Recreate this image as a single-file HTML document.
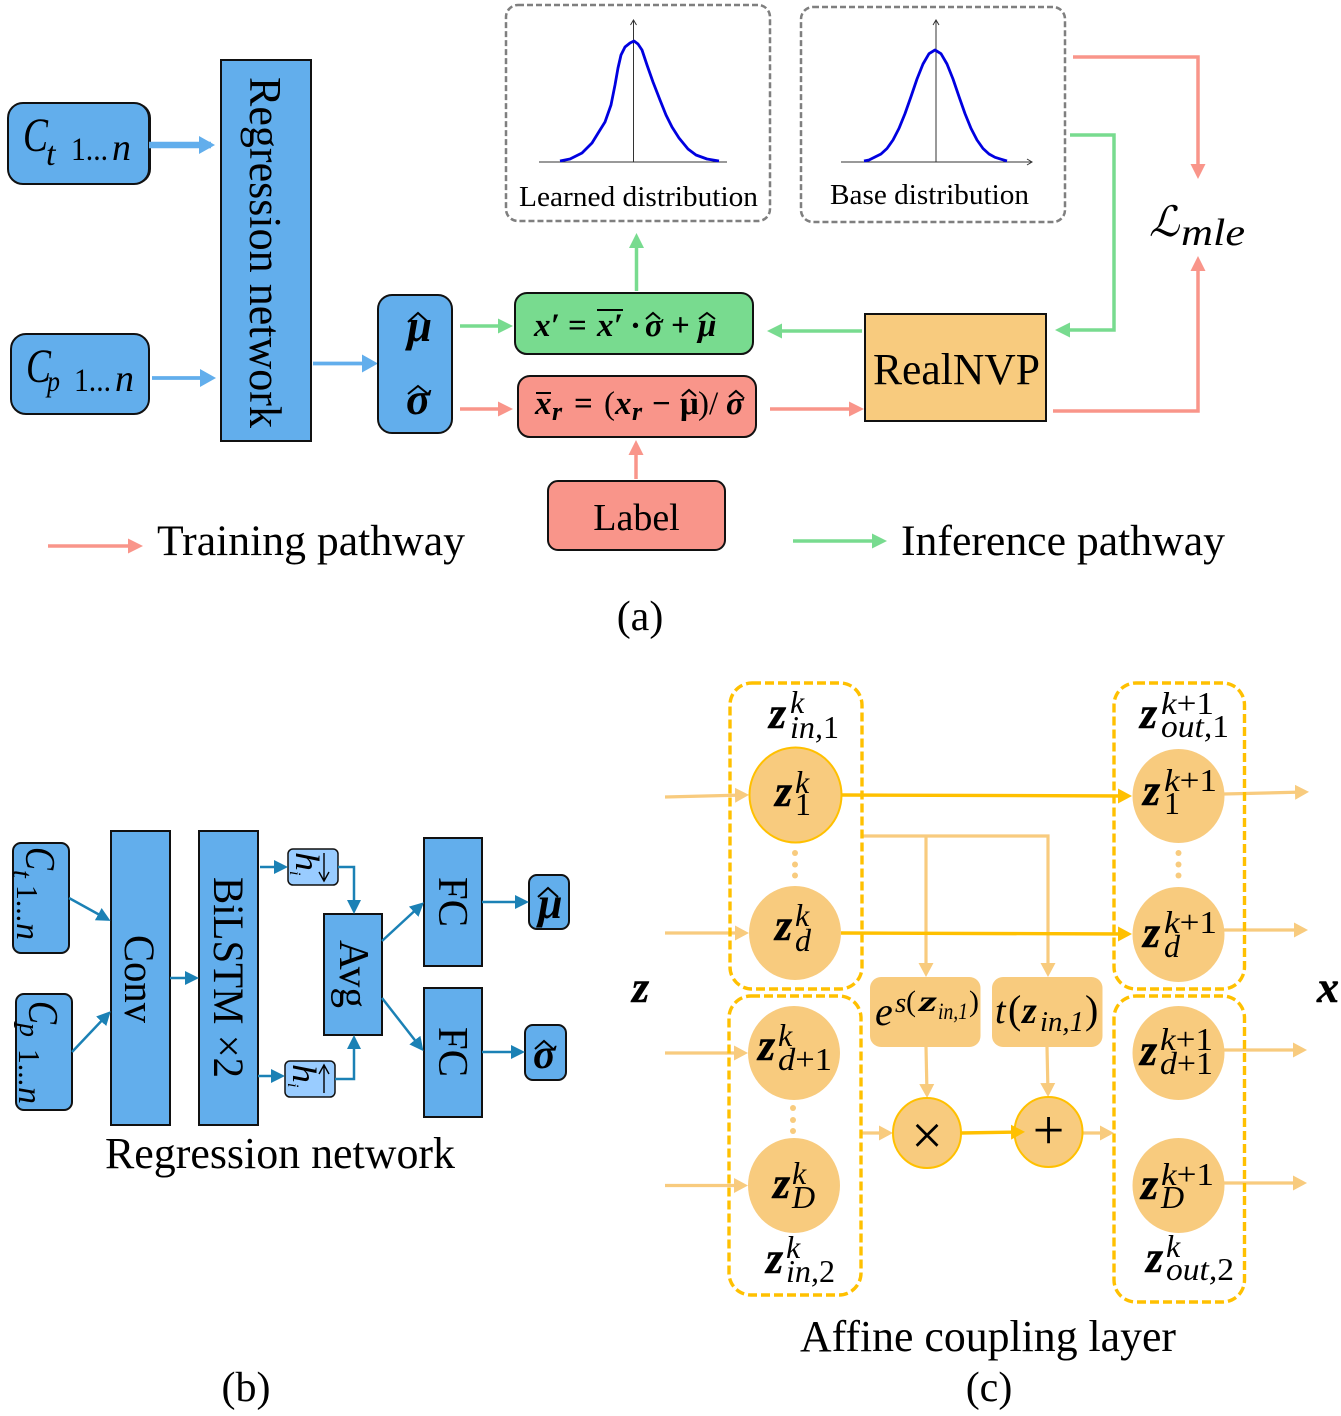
<!DOCTYPE html>
<html><head><meta charset="utf-8"><style>
html,body{margin:0;padding:0;background:#fff}
svg{display:block}
text{font-family:"Liberation Serif",serif;fill:#000}
.i{font-style:italic}
.bi{font-style:italic;font-weight:bold}
.b{font-weight:bold}
.z{font-style:italic;font-weight:bold;font-size:44px;stroke:#000;stroke-width:.5}
.s{font-style:italic;font-size:32px}
.s tspan{font-style:normal}
.n{font-size:32px}
.f{font-size:33px;font-weight:bold}
.bx{stroke:#111;stroke-width:2;fill:#62AEEC}
.rd{stroke:#F9958A;stroke-width:3.5;fill:none;marker-end:url(#mr)}
.gr{stroke:#78DB8F;stroke-width:3.5;fill:none;marker-end:url(#mg)}
.te{stroke:#1B81B5;stroke-width:2.5;fill:none;marker-end:url(#mt)}
.li{stroke:#F8CB7E;stroke-width:3.2;fill:none;marker-end:url(#ml)}
.ye{stroke:#FFC000;stroke-width:3.4;fill:none;marker-end:url(#my)}
.da{fill:none;stroke:#7f7f7f;stroke-width:2.5;stroke-dasharray:6 3}
.yd{fill:none;stroke:#FFC000;stroke-width:3.4;stroke-dasharray:9 4}
.or{fill:#F8CB7E}
.ors{fill:#F8CB7E;stroke:#FFC000;stroke-width:2}
.hat{fill:none;stroke:#000;stroke-width:2}
.cv{fill:none;stroke:#0000E0;stroke-width:2.8;stroke-linejoin:round}
.ax{fill:none;stroke:#333;stroke-width:1}
</style></head><body>
<svg xmlns="http://www.w3.org/2000/svg" width="1341" height="1416" viewBox="0 0 1341 1416">
<defs>
<marker id="mb" markerUnits="userSpaceOnUse" markerWidth="30" markerHeight="30" refX="12" refY="15" orient="auto"><path d="M0,6 L16,15 L0,24Z" fill="#62AEEC"/></marker>
<marker id="mr" markerUnits="userSpaceOnUse" markerWidth="30" markerHeight="30" refX="11" refY="15" orient="auto"><path d="M0,7.500 L15,15 L0,22.500Z" fill="#F9958A"/></marker>
<marker id="mg" markerUnits="userSpaceOnUse" markerWidth="30" markerHeight="30" refX="11" refY="15" orient="auto"><path d="M0,7.500 L15,15 L0,22.500Z" fill="#78DB8F"/></marker>
<marker id="mt" markerUnits="userSpaceOnUse" markerWidth="30" markerHeight="30" refX="10" refY="15" orient="auto"><path d="M0,8 L14,15 L0,22Z" fill="#1B81B5"/></marker>
<marker id="ml" markerUnits="userSpaceOnUse" markerWidth="30" markerHeight="30" refX="10" refY="15" orient="auto"><path d="M0,7.500 L14,15 L0,22.500Z" fill="#F8CB7E"/></marker>
<marker id="my" markerUnits="userSpaceOnUse" markerWidth="30" markerHeight="30" refX="10" refY="15" orient="auto"><path d="M0,7.500 L14,15 L0,22.500Z" fill="#FFC000"/></marker>
</defs>

<!-- Panel a -->
<rect x="10" y="103" width="141" height="81" rx="15" fill="#111"/>
<rect x="8" y="103" width="141" height="81" rx="15" class="bx"/>
<text x="23" y="151" class="i" font-size="48" textLength="25" lengthAdjust="spacingAndGlyphs">C</text>
<text x="46" y="165" class="i" font-size="34">t</text>
<text x="71" y="160" font-size="33" textLength="37" lengthAdjust="spacingAndGlyphs">1...</text>
<text x="112" y="160" class="i" font-size="38">n</text>
<rect x="11" y="334" width="138" height="80" rx="15" class="bx"/>
<text x="26" y="382" class="i" font-size="48" textLength="25" lengthAdjust="spacingAndGlyphs">C</text>
<text x="47" y="391" class="i" font-size="30" textLength="13" lengthAdjust="spacingAndGlyphs">p</text>
<text x="74" y="391" font-size="33" textLength="37" lengthAdjust="spacingAndGlyphs">1...</text>
<text x="115" y="391" class="i" font-size="38">n</text>
<rect x="221" y="60" width="90" height="381" class="bx"/>
<text transform="translate(250,77) rotate(90)" font-size="45" textLength="351" lengthAdjust="spacingAndGlyphs">Regression network</text>

<path d="M149,145 H211" stroke="#62AEEC" stroke-width="6.500" fill="none" marker-end="url(#mb)"/>
<path d="M152,378 H212" stroke="#62AEEC" stroke-width="3.800" fill="none" marker-end="url(#mb)"/>
<path d="M313,363.500 H374" stroke="#62AEEC" stroke-width="3.800" fill="none" marker-end="url(#mb)"/>

<rect x="378" y="295" width="74" height="138" rx="14" class="bx"/>
<text x="407" y="341" class="bi" font-size="45">μ</text>
<path d="M408,322 L418,313 L428,322" class="hat" stroke-width="2.200"/>
<text x="406" y="414" class="bi" font-size="45">σ</text>
<path d="M408,394 L418,386 L428,394" class="hat" stroke-width="2.200"/>

<path d="M460,326 H509" class="gr"/>
<path d="M460,409 H509" class="rd"/>

<rect x="515" y="293" width="238" height="61" rx="12" fill="#78DB8F" stroke="#111" stroke-width="2"/>
<text x="534" y="336" class="f bi">x′</text>
<text x="568" y="336" class="f">=</text>
<text x="597" y="336" class="f bi">x′</text>
<path d="M597,310 H623" stroke="#000" stroke-width="2" fill="none"/>
<text x="630" y="336" class="f">·</text>
<text x="645" y="336" class="f bi">σ</text>
<path d="M646,319 L653,313 L660,319" class="hat"/>
<text x="671" y="336" class="f">+</text>
<text x="698" y="336" class="f bi">μ</text>
<path d="M699,319 L707,313 L715,319" class="hat"/>

<rect x="518" y="376" width="238" height="61" rx="12" fill="#F9958A" stroke="#111" stroke-width="2"/>
<text x="535" y="414" class="f bi">x</text>
<path d="M536,393 H551" stroke="#000" stroke-width="2" fill="none"/>
<text x="552" y="420" class="bi" font-size="26">r</text>
<text x="574" y="414" class="f">=</text>
<text x="604" y="414" font-size="33">(</text>
<text x="615" y="414" class="f bi">x</text>
<text x="632" y="420" class="bi" font-size="26">r</text>
<text x="652" y="414" class="f">−</text>
<text x="680" y="414" class="f">μ</text>
<path d="M682,396 L689,390 L696,396" class="hat"/>
<text x="698" y="414" font-size="33">)/</text>
<text x="726" y="414" class="f bi">σ</text>
<path d="M729,397 L736,391 L743,397" class="hat"/>

<path d="M636.500,291 V237" class="gr"/>
<path d="M636,479 V444" class="rd"/>
<rect x="548" y="481" width="177" height="69" rx="10" fill="#F9958A" stroke="#111" stroke-width="2"/>
<text x="636.500" y="530" font-size="38" text-anchor="middle">Label</text>

<rect x="506" y="5" width="264" height="216" rx="12" class="da"/>
<path d="M539,162 H727 M633.500,162 V20 M630.500,25 L633.500,20 L636.500,25" class="ax"/>
<polyline points="560,161 570,159 582,153 592,143 600,130 605,122 611,105 615,85 618,68 621,55 625,47 630,43 634,41 638,44 642,50 647,65 653,82 660,100 666,115 672,127 679,138 688,149 696,155 707,159 719,161" class="cv"/>
<text x="519" y="206" font-size="29" textLength="239" lengthAdjust="spacingAndGlyphs">Learned distribution</text>

<rect x="801" y="7" width="264" height="215" rx="12" class="da"/>
<path d="M841,162 H1032 M1027,159 L1032,162 L1027,165 M936,162 V20 M933,25 L936,20 L939,25" class="ax"/>
<polyline points="864,161 869,160 875,157 881,154 887,148.500 893,140 899,128.400 905,113.600 911,96.600 917,79 923,64 929,53.700 935,50 941,53.700 947,64 953,79 959,96.600 965,113.600 971,128.400 977,140 983,148.500 989,154 995,157.300 1001,159.200 1007,161" class="cv"/>
<text x="830" y="204" font-size="29" textLength="199" lengthAdjust="spacingAndGlyphs">Base distribution</text>

<rect x="865" y="314" width="181" height="107" fill="#F8CB7E" stroke="#111" stroke-width="2"/>
<text x="873" y="384" font-size="44" textLength="167" lengthAdjust="spacingAndGlyphs">RealNVP</text>

<path d="M770,409 H860" class="rd"/>
<path d="M862,331 H771" class="gr"/>
<path d="M1070,135 H1114 V330 H1059" class="gr"/>
<path d="M1073,57 H1198 V175" class="rd"/>
<path d="M1053,411 H1198 V260" class="rd"/>

<text x="1149" y="236" font-size="42" class="i" font-family="DejaVu Serif">ℒ</text>
<text x="1181" y="245" class="i" font-size="38" textLength="64" lengthAdjust="spacingAndGlyphs">mle</text>

<path d="M48,546 H139" class="rd"/>
<text x="157" y="555" font-size="43.500" textLength="308" lengthAdjust="spacingAndGlyphs">Training pathway</text>
<path d="M793,541 H883" class="gr"/>
<text x="901" y="555" font-size="43.500" textLength="324" lengthAdjust="spacingAndGlyphs">Inference pathway</text>
<text x="640" y="630" font-size="42" text-anchor="middle">(a)</text>

<!-- Panel b -->
<rect x="13" y="843" width="56" height="110" rx="8" class="bx"/>
<text transform="translate(26,847) rotate(90)" class="i" font-size="42" textLength="23" lengthAdjust="spacingAndGlyphs">C</text>
<text transform="translate(13,870) rotate(90)" class="i" font-size="28">t</text>
<text transform="translate(17,885) rotate(90)" font-size="31" textLength="37" lengthAdjust="spacingAndGlyphs">1...</text>
<text transform="translate(17,923) rotate(90)" class="i" font-size="34">n</text>
<rect x="16" y="994" width="56" height="116" rx="8" class="bx"/>
<text transform="translate(29,1001) rotate(90)" class="i" font-size="42" textLength="23" lengthAdjust="spacingAndGlyphs">C</text>
<text transform="translate(20,1023) rotate(90)" class="i" font-size="28">p</text>
<text transform="translate(19,1049) rotate(90)" font-size="31" textLength="37" lengthAdjust="spacingAndGlyphs">1...</text>
<text transform="translate(19,1087) rotate(90)" class="i" font-size="34">n</text>

<rect x="111" y="831" width="59" height="294" class="bx"/>
<text transform="translate(125,935) rotate(90)" font-size="43" textLength="88" lengthAdjust="spacingAndGlyphs">Conv</text>
<rect x="199" y="831" width="59" height="294" class="bx"/>
<text transform="translate(214,877) rotate(90)" font-size="43" textLength="201" lengthAdjust="spacingAndGlyphs">BiLSTM ×2</text>
<rect x="288" y="849" width="50" height="36" rx="5" fill="#99CCFF" stroke="#111" stroke-width="1.500"/>
<text transform="translate(296,852) rotate(90)" class="i" font-size="34" textLength="19" lengthAdjust="spacingAndGlyphs">h</text>
<text transform="translate(290,871) rotate(90)" class="i" font-size="16">i</text>
<path d="M324,853 V880 M319,872 L324,881 L329,872" fill="none" stroke="#000" stroke-width="1.400"/>
<rect x="285" y="1061" width="50" height="36" rx="5" fill="#99CCFF" stroke="#111" stroke-width="1.500"/>
<text transform="translate(293,1064) rotate(90)" class="i" font-size="34" textLength="19" lengthAdjust="spacingAndGlyphs">h</text>
<text transform="translate(288,1083) rotate(90)" class="i" font-size="16">i</text>
<path d="M324,1093 V1066 M319,1074 L324,1065 L329,1074" fill="none" stroke="#000" stroke-width="1.400"/>
<rect x="324" y="914" width="58" height="121" class="bx"/>
<text transform="translate(340,940) rotate(90)" font-size="42" textLength="68" lengthAdjust="spacingAndGlyphs">Avg</text>
<rect x="424" y="838" width="58" height="128" class="bx"/>
<text transform="translate(439,877) rotate(90)" font-size="42" textLength="50" lengthAdjust="spacingAndGlyphs">FC</text>
<rect x="424" y="988" width="58" height="129" class="bx"/>
<text transform="translate(439,1027) rotate(90)" font-size="42" textLength="50" lengthAdjust="spacingAndGlyphs">FC</text>
<rect x="529" y="875" width="40" height="54" rx="8" class="bx"/>
<text x="538" y="918" class="bi" font-size="44">μ</text>
<path d="M538,897 L548,888 L558,897" class="hat" stroke-width="2.200"/>
<rect x="525" y="1025" width="41" height="55" rx="8" class="bx"/>
<text x="533" y="1068" class="bi" font-size="42">σ</text>
<path d="M535,1049 L544,1041 L553,1049" class="hat" stroke-width="2.200"/>

<path d="M69,898 L107,919" class="te"/>
<path d="M72,1052 L108,1014" class="te"/>
<path d="M170,978 H195" class="te"/>
<path d="M260,867 H284" class="te"/>
<path d="M338,867 H354 V910" class="te"/>
<path d="M258,1076 H281" class="te"/>
<path d="M335,1079 H354 V1039" class="te"/>
<path d="M382,941 L421,905" class="te"/>
<path d="M382,998 L421,1048" class="te"/>
<path d="M482,902 H525" class="te"/>
<path d="M482,1052 H521" class="te"/>

<text x="280" y="1168" font-size="44" text-anchor="middle" textLength="350" lengthAdjust="spacingAndGlyphs">Regression network</text>
<text x="246" y="1401" font-size="42" text-anchor="middle">(b)</text>

<!-- Panel c -->
<path d="M665,797 L745,795" class="li"/>
<path d="M665,933 H745" class="li"/>
<path d="M665,1053 H744" class="li"/>
<path d="M665,1185.500 H744" class="li"/>
<path d="M1224,794 L1305,792" class="li"/>
<path d="M1224,930 H1304" class="li"/>
<path d="M1224,1050 H1303" class="li"/>
<path d="M1224,1183 H1303" class="li"/>
<path d="M862,836 H1048 V973" class="li"/>
<path d="M926,836 V973" class="li"/>
<path d="M926,1047 L927,1094" class="li"/>
<path d="M1047,1047 L1048,1093" class="li"/>
<path d="M861,1133 H889" class="li"/>
<path d="M1083,1133 H1110" class="li"/>

<rect x="730" y="683" width="132" height="306" rx="22" class="yd"/>
<rect x="1114" y="683" width="130.500" height="306" rx="22" class="yd"/>
<rect x="729" y="996" width="132" height="299" rx="22" class="yd"/>
<rect x="1114" y="996" width="130.500" height="306" rx="22" class="yd"/>

<ellipse cx="795.500" cy="795" rx="46" ry="47.500" class="ors"/>
<ellipse cx="795" cy="933" rx="46" ry="47" class="or"/>
<ellipse cx="1178.500" cy="796" rx="46" ry="47" class="or"/>
<ellipse cx="1178.500" cy="934.500" rx="46" ry="47.500" class="or"/>
<ellipse cx="794" cy="1053" rx="46" ry="47" class="or"/>
<ellipse cx="794" cy="1185.500" rx="46" ry="47.500" class="or"/>
<ellipse cx="1178.500" cy="1053" rx="46" ry="47" class="or"/>
<ellipse cx="1178.500" cy="1185.500" rx="46" ry="47.500" class="or"/>
<ellipse cx="927" cy="1133" rx="34" ry="35" class="ors"/>
<ellipse cx="1048.500" cy="1132" rx="34" ry="35" class="ors"/>

<path d="M842,795 L1128,796" class="ye"/>
<path d="M841,933 L1128,934" class="ye"/>
<path d="M961,1133 L1021,1132" class="ye"/>

<g fill="#F8CB7E">
<circle cx="795" cy="853" r="3"/><circle cx="795" cy="864.500" r="3"/><circle cx="795" cy="875.500" r="3"/>
<circle cx="1178.500" cy="853" r="3"/><circle cx="1178.500" cy="864.500" r="3"/><circle cx="1178.500" cy="875.500" r="3"/>
<circle cx="793" cy="1108" r="3"/><circle cx="793" cy="1120" r="3"/><circle cx="793" cy="1131" r="3"/>
</g>
<rect x="870" y="977" width="110.500" height="70" rx="11" class="or"/>
<rect x="992" y="977" width="110.500" height="70" rx="11" class="or"/>

<text x="632" y="1002" class="z">z</text>
<text x="1317" y="1002" class="z">x</text>

<text x="769" y="728" class="z">z</text><text x="790" y="713" class="s">k</text><text x="790" y="738" class="s" textLength="49" lengthAdjust="spacingAndGlyphs">in,<tspan>1</tspan></text>
<text x="1140" y="728" class="z">z</text><text x="1161" y="714" class="s" textLength="53" lengthAdjust="spacingAndGlyphs">k<tspan>+1</tspan></text><text x="1161" y="737" class="s" textLength="68" lengthAdjust="spacingAndGlyphs">out,<tspan>1</tspan></text>

<text x="775" y="806" class="z">z</text><text x="795" y="793" class="s">k</text><text x="795" y="815" class="n">1</text>
<text x="775" y="940" class="z">z</text><text x="795" y="926" class="s">k</text><text x="795" y="951" class="s">d</text>
<text x="1143" y="805" class="z">z</text><text x="1164" y="791" class="s" textLength="53" lengthAdjust="spacingAndGlyphs">k<tspan>+1</tspan></text><text x="1164" y="814" class="n">1</text>
<text x="1143" y="947" class="z">z</text><text x="1164" y="933" class="s" textLength="53" lengthAdjust="spacingAndGlyphs">k<tspan>+1</tspan></text><text x="1164" y="957" class="s">d</text>
<text x="758" y="1060" class="z">z</text><text x="778" y="1046" class="s">k</text><text x="778" y="1070" class="s" textLength="54" lengthAdjust="spacingAndGlyphs">d<tspan>+1</tspan></text>
<text x="773" y="1198" class="z">z</text><text x="792" y="1184" class="s">k</text><text x="792" y="1208" class="s">D</text>
<text x="1140" y="1065" class="z">z</text><text x="1160" y="1050" class="s" textLength="53" lengthAdjust="spacingAndGlyphs">k<tspan>+1</tspan></text><text x="1160" y="1074" class="s" textLength="53" lengthAdjust="spacingAndGlyphs">d<tspan>+1</tspan></text>
<text x="1141" y="1199" class="z">z</text><text x="1161" y="1185" class="s" textLength="53" lengthAdjust="spacingAndGlyphs">k<tspan>+1</tspan></text><text x="1161" y="1208" class="s">D</text>
<text x="766" y="1273" class="z">z</text><text x="786" y="1258" class="s">k</text><text x="786" y="1282" class="s" textLength="49" lengthAdjust="spacingAndGlyphs">in,<tspan>2</tspan></text>
<text x="1146" y="1272" class="z">z</text><text x="1166" y="1257" class="s">k</text><text x="1166" y="1280" class="s" textLength="68" lengthAdjust="spacingAndGlyphs">out,<tspan>2</tspan></text>

<text x="875" y="1025" class="i" font-size="40">e</text>
<text x="895" y="1012" class="i" font-size="29">s</text>
<text x="906" y="1011" font-size="30">(</text>
<text x="919" y="1011" class="bi" font-size="30" textLength="18" lengthAdjust="spacingAndGlyphs">z</text>
<text x="938" y="1019" class="i" font-size="23" textLength="30" lengthAdjust="spacingAndGlyphs">in,1</text>
<text x="969" y="1011" font-size="30">)</text>

<text x="995" y="1023" class="i" font-size="38">t</text>
<text x="1008" y="1023" font-size="40">(</text>
<text x="1022" y="1023" class="bi" font-size="38">z</text>
<text x="1040" y="1031" class="i" font-size="28" textLength="44" lengthAdjust="spacingAndGlyphs">in,1</text>
<text x="1085" y="1023" font-size="40">)</text>

<text x="927" y="1154" font-size="56" text-anchor="middle">×</text>
<text x="1048.500" y="1149" font-size="56" text-anchor="middle">+</text>

<text x="988" y="1351" font-size="44" text-anchor="middle" textLength="376" lengthAdjust="spacingAndGlyphs">Affine coupling layer</text>
<text x="989" y="1401" font-size="42" text-anchor="middle">(c)</text>
</svg>
</body></html>
